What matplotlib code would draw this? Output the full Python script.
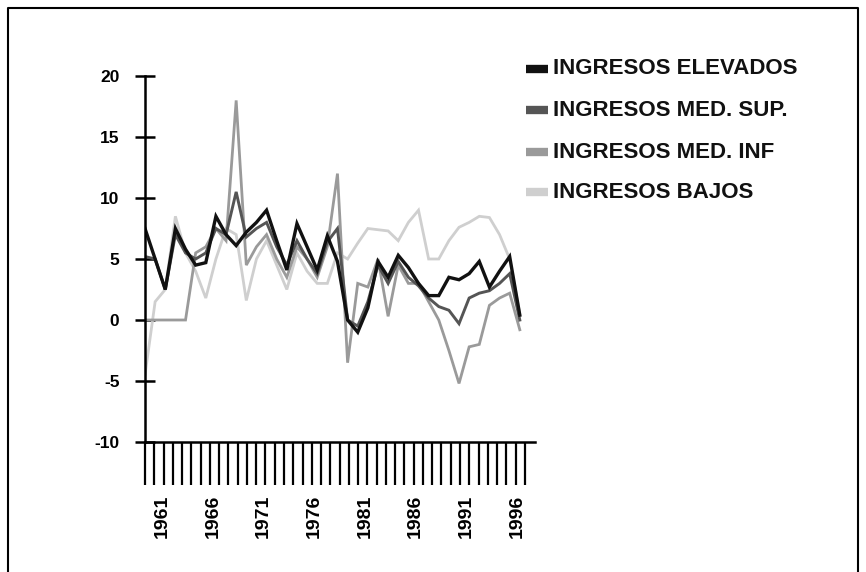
import matplotlib
matplotlib.use("Agg")
import matplotlib.pyplot as plt
from matplotlib.lines import Line2D
import numpy as np

plt.rcParams['font.family'] = ['Liberation Sans', 'DejaVu Sans']

years = list(range(1960, 1998))
elevados = [7.5, 5.0, 2.5, 7.5, 5.8, 4.5, 4.7, 8.5, 7.0, 6.1,
            7.2, 8.0, 9.0, 6.5, 4.1, 7.9, 6.0, 4.1, 6.9, 4.8,
            0.0, -1.0, 1.0, 4.8, 3.5, 5.3, 4.3, 3.0, 2.0, 2.0,
            3.5, 3.3, 3.8, 4.8, 2.7, 4.0, 5.2, 0.4]
med_sup = [5.2, 5.0, 2.5, 7.0, 5.5, 5.0, 5.5, 7.5, 7.0, 10.5,
           6.8, 7.5, 8.0, 6.0, 4.5, 6.5, 5.0, 3.8, 6.4, 7.5,
           0.0, -0.5, 1.5, 4.5, 3.0, 4.8, 3.5, 2.8, 1.8, 1.1,
           0.8, -0.3, 1.8, 2.2, 2.4, 3.0, 3.8, 0.0]
med_inf = [0.0, 0.0, 0.0, 0.0, 0.0, 5.5, 6.0, 7.5, 6.5, 18.0,
           4.5, 6.0, 7.0, 5.0, 3.5, 6.0, 5.0, 3.5, 6.0, 12.0,
           -3.5, 3.0, 2.7, 5.0, 0.3, 4.5, 3.0, 3.0, 1.5, 0.0,
           -2.5, -5.2, -2.2, -2.0, 1.2, 1.8, 2.2, -0.8]
bajos = [-4.5, 1.5, 2.5, 8.5, 5.5, 4.0, 1.8, 5.0, 7.5, 7.0,
         1.6, 5.0, 6.5, 4.5, 2.5, 5.5, 4.0, 3.0, 3.0, 5.5,
         5.0, 6.3, 7.5, 7.4, 7.3, 6.5, 8.0, 9.0, 5.0, 5.0,
         6.5, 7.6, 8.0, 8.5, 8.4, 7.0, 5.0, 0.5]
series_names = ["INGRESOS ELEVADOS", "INGRESOS MED. SUP.", "INGRESOS MED. INF", "INGRESOS BAJOS"]
series_vals = [elevados, med_sup, med_inf, bajos]
colors = ["#111111", "#555555", "#9a9a9a", "#cfcfcf"]
widths = [2.4, 2.1, 2.0, 2.0]
label_years = [1961, 1966, 1971, 1976, 1981, 1986, 1991, 1996]
yticks = [-10, -5, 0, 5, 10, 15, 20]

W, H = 866, 572
fig = plt.figure(figsize=(W / 100, H / 100), dpi=100)

ax_left_px, ax_right_px = 144.5, 535
ax_top_px, ax_bot_px = 76, 442
ax = fig.add_axes([ax_left_px / W, 1 - ax_bot_px / H,
                   (ax_right_px - ax_left_px) / W, (ax_bot_px - ax_top_px) / H])

for vals, c, lw in reversed(list(zip(series_vals, colors, widths))):
    ax.plot(years, vals, color=c, lw=lw, solid_joinstyle='miter')

ax.set_xlim(1959.95, 1998.5)
ax.set_ylim(-10, 20)
for s in ['top', 'right']:
    ax.spines[s].set_visible(False)
ax.spines['left'].set_linewidth(1.8)
ax.spines['bottom'].set_linewidth(1.8)
ax.spines['left'].set_bounds(-10, 20)

ax.set_yticks(yticks)
ax.set_yticklabels([str(v) for v in yticks], fontsize=12.5, fontweight='bold')
ax.tick_params(axis='y', direction='inout', length=14, width=1.8, pad=11)

# long category ticks under the axis
ax.set_xticks(np.linspace(1960, 1997.5, 42), minor=True)
ax.tick_params(axis='x', which='minor', direction='out', length=31, width=1.6)
ax.set_xticks([y + 0.7 for y in label_years])
ax.set_xticklabels([str(y) for y in label_years], rotation=90, fontsize=14, fontweight='bold')
ax.tick_params(axis='x', which='major', length=0, pad=38)

# legend drawn manually
leg_y = [69, 110, 152, 192]
for name, c, yy in zip(series_names, colors, leg_y):
    fig.add_artist(Line2D([526 / W, 548 / W], [1 - yy / H] * 2, color=c, lw=6,
                          solid_capstyle='butt'))
    fig.text(553 / W, 1 - yy / H, name, fontsize=16, fontweight='bold',
             va='center', ha='left', color='#111111')

# outer frame
fx0, fx1, fy0 = 8 / W, 858 / W, 1 - 8 / H
fig.add_artist(Line2D([fx0, fx0, fx1, fx1], [0, fy0, fy0, 0], color='black', lw=1.5))

fig.savefig("out.png", dpi=100)
